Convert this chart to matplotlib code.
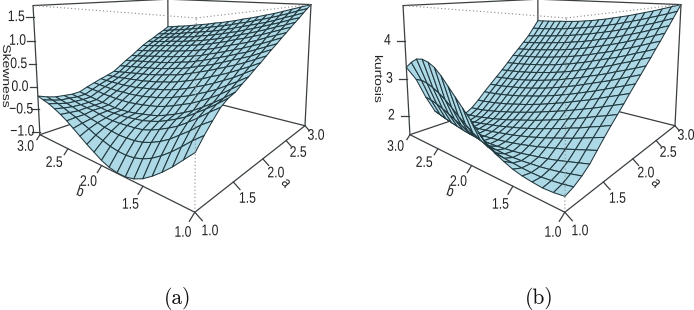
import numpy as np
import matplotlib
matplotlib.use("Agg")
import matplotlib.pyplot as plt
from matplotlib.collections import PolyCollection
from matplotlib.patheffects import AbstractPathEffect
from matplotlib.transforms import Affine2D

a_grid = [1.0, 1.1, 1.2, 1.3, 1.4, 1.5, 1.6, 1.7, 1.8, 1.9, 2.0, 2.1, 2.2, 2.3, 2.4, 2.5, 2.6, 2.7, 2.8, 2.9, 3.0]
b_grid = [1.0, 1.1, 1.2, 1.3, 1.4, 1.5, 1.6, 1.7, 1.8, 1.9, 2.0, 2.1, 2.2, 2.3, 2.4, 2.5, 2.6, 2.7, 2.8, 2.9, 3.0]

# each row: one value of a, columns follow b_grid
skewness = [
    [-.16, -.34, -.52, -.68, -.82, -.94, -1.02, -1.06, -1.06, -1.03, -.97, -.88, -.79, -.69, -.59, -.49, -.41, -.34, -.28, -.24, -.20],
    [.02, -.12, -.28, -.43, -.56, -.67, -.75, -.80, -.82, -.81, -.78, -.73, -.68, -.61, -.55, -.48, -.43, -.38, -.33, -.30, -.27],
    [.18, .06, -.09, -.22, -.35, -.45, -.53, -.59, -.62, -.63, -.63, -.61, -.59, -.55, -.52, -.48, -.45, -.41, -.38, -.35, -.32],
    [.33, .20, .06, -.07, -.19, -.28, -.36, -.43, -.48, -.50, -.51, -.52, -.52, -.51, -.48, -.45, -.44, -.42, -.39, -.36, -.34],
    [.42, .28, .15, .03, -.09, -.18, -.26, -.33, -.38, -.42, -.44, -.46, -.47, -.47, -.47, -.45, -.44, -.42, -.40, -.38, -.36],
    [.47, .33, .20, .08, -.03, -.12, -.20, -.27, -.33, -.37, -.40, -.43, -.45, -.46, -.46, -.44, -.43, -.41, -.39, -.37, -.35],
    [.56, .43, .30, .19, .09, .00, -.07, -.14, -.20, -.25, -.28, -.31, -.33, -.35, -.35, -.35, -.34, -.33, -.31, -.30, -.28],
    [.64, .52, .41, .30, .21, .13, .05, -.01, -.07, -.12, -.16, -.19, -.22, -.24, -.25, -.25, -.26, -.25, -.24, -.23, -.22],
    [.73, .62, .51, .42, .33, .25, .18, .11, .05, .00, -.04, -.07, -.10, -.12, -.15, -.16, -.17, -.17, -.17, -.17, -.16],
    [.81, .71, .62, .53, .45, .38, .30, .24, .18, .13, .08, .05, .01, -.01, -.04, -.05, -.07, -.08, -.10, -.11, -.11],
    [.90, .81, .72, .64, .57, .50, .43, .37, .31, .25, .20, .17, .13, .10, .07, .05, .03, .01, -.01, -.03, -.05],
    [.99, .90, .81, .74, .67, .60, .53, .47, .42, .36, .31, .28, .24, .21, .18, .16, .14, .12, .10, .08, .06],
    [1.07, .99, .91, .83, .77, .70, .64, .58, .52, .47, .42, .39, .35, .32, .29, .27, .25, .23, .21, .19, .17],
    [1.16, 1.08, 1.00, .93, .86, .80, .74, .68, .63, .57, .53, .49, .46, .43, .40, .38, .36, .33, .31, .29, .27],
    [1.24, 1.17, 1.10, 1.02, .96, .90, .85, .79, .73, .68, .64, .60, .57, .54, .51, .49, .47, .44, .42, .40, .38],
    [1.33, 1.26, 1.19, 1.12, 1.06, 1.00, .95, .89, .84, .79, .75, .71, .68, .65, .62, .60, .58, .55, .53, .51, .49],
    [1.41, 1.34, 1.28, 1.21, 1.15, 1.09, 1.04, .98, .93, .88, .84, .80, .77, .74, .71, .69, .67, .64, .62, .60, .58],
    [1.49, 1.43, 1.36, 1.30, 1.24, 1.18, 1.13, 1.07, 1.03, .98, .94, .90, .87, .83, .80, .78, .76, .73, .71, .68, .66],
    [1.58, 1.51, 1.45, 1.38, 1.32, 1.27, 1.22, 1.17, 1.12, 1.07, 1.03, .99, .96, .93, .90, .87, .84, .81, .79, .77, .75],
    [1.66, 1.60, 1.53, 1.47, 1.41, 1.36, 1.31, 1.26, 1.22, 1.17, 1.13, 1.09, 1.06, 1.02, .99, .96, .93, .90, .88, .85, .83],
    [1.74, 1.68, 1.62, 1.56, 1.50, 1.45, 1.40, 1.35, 1.31, 1.26, 1.22, 1.18, 1.15, 1.11, 1.08, 1.05, 1.02, .99, .97, .94, .92],
]

kurtosis = [
    [1.77, 1.74, 1.73, 1.75, 1.78, 1.83, 1.91, 2.00, 2.13, 2.32, 2.53, 2.73, 2.93, 3.13, 3.33, 3.49, 3.58, 3.62, 3.59, 3.47, 3.30],
    [1.83, 1.79, 1.76, 1.74, 1.74, 1.75, 1.77, 1.79, 1.83, 1.89, 1.98, 2.08, 2.21, 2.35, 2.50, 2.64, 2.76, 2.85, 2.92, 2.95, 2.93],
    [1.93, 1.88, 1.83, 1.79, 1.76, 1.74, 1.72, 1.71, 1.71, 1.72, 1.74, 1.78, 1.83, 1.90, 1.98, 2.06, 2.15, 2.23, 2.30, 2.35, 2.38],
    [2.06, 2.00, 1.94, 1.88, 1.83, 1.79, 1.75, 1.71, 1.68, 1.66, 1.64, 1.63, 1.63, 1.64, 1.66, 1.69, 1.73, 1.77, 1.82, 1.87, 1.92],
    [2.24, 2.17, 2.10, 2.03, 1.97, 1.91, 1.85, 1.80, 1.75, 1.71, 1.67, 1.64, 1.61, 1.59, 1.58, 1.57, 1.57, 1.58, 1.60, 1.63, 1.67],
    [2.42, 2.34, 2.26, 2.18, 2.11, 2.04, 1.97, 1.91, 1.85, 1.80, 1.75, 1.71, 1.67, 1.63, 1.60, 1.57, 1.55, 1.53, 1.52, 1.52, 1.52],
    [2.59, 2.50, 2.42, 2.33, 2.26, 2.18, 2.11, 2.04, 1.97, 1.91, 1.85, 1.80, 1.75, 1.70, 1.66, 1.62, 1.58, 1.55, 1.52, 1.50, 1.49],
    [2.75, 2.66, 2.58, 2.49, 2.41, 2.33, 2.25, 2.18, 2.11, 2.04, 1.98, 1.92, 1.86, 1.80, 1.75, 1.70, 1.66, 1.62, 1.58, 1.56, 1.54],
    [2.91, 2.82, 2.73, 2.64, 2.56, 2.48, 2.40, 2.33, 2.26, 2.19, 2.12, 2.06, 2.00, 1.94, 1.89, 1.84, 1.79, 1.75, 1.71, 1.68, 1.66],
    [3.08, 2.99, 2.90, 2.81, 2.72, 2.64, 2.56, 2.48, 2.41, 2.34, 2.27, 2.21, 2.15, 2.10, 2.05, 2.00, 1.96, 1.92, 1.89, 1.86, 1.84],
    [3.24, 3.15, 3.06, 2.97, 2.88, 2.80, 2.72, 2.64, 2.57, 2.50, 2.44, 2.38, 2.33, 2.28, 2.23, 2.19, 2.15, 2.12, 2.09, 2.07, 2.05],
    [3.40, 3.31, 3.22, 3.13, 3.05, 2.97, 2.89, 2.81, 2.74, 2.67, 2.61, 2.55, 2.50, 2.45, 2.41, 2.37, 2.34, 2.31, 2.28, 2.26, 2.24],
    [3.56, 3.47, 3.38, 3.30, 3.21, 3.13, 3.06, 2.98, 2.91, 2.85, 2.78, 2.73, 2.68, 2.63, 2.59, 2.55, 2.52, 2.49, 2.47, 2.45, 2.43],
    [3.72, 3.64, 3.55, 3.47, 3.38, 3.30, 3.23, 3.16, 3.09, 3.02, 2.96, 2.91, 2.86, 2.82, 2.78, 2.74, 2.71, 2.68, 2.66, 2.64, 2.62],
    [3.89, 3.80, 3.72, 3.63, 3.55, 3.48, 3.41, 3.34, 3.27, 3.21, 3.15, 3.10, 3.05, 3.01, 2.97, 2.94, 2.91, 2.88, 2.86, 2.84, 2.82],
    [4.05, 3.97, 3.88, 3.80, 3.73, 3.65, 3.58, 3.52, 3.45, 3.39, 3.34, 3.29, 3.25, 3.21, 3.17, 3.14, 3.11, 3.09, 3.07, 3.05, 3.03],
    [4.22, 4.14, 4.05, 3.98, 3.90, 3.83, 3.76, 3.70, 3.64, 3.58, 3.53, 3.48, 3.44, 3.40, 3.37, 3.34, 3.31, 3.28, 3.26, 3.24, 3.22],
    [4.39, 4.31, 4.23, 4.15, 4.08, 4.01, 3.94, 3.88, 3.83, 3.77, 3.72, 3.68, 3.64, 3.60, 3.57, 3.54, 3.51, 3.48, 3.46, 3.44, 3.42],
    [4.56, 4.48, 4.40, 4.33, 4.26, 4.19, 4.13, 4.07, 4.02, 3.97, 3.92, 3.88, 3.84, 3.80, 3.77, 3.74, 3.71, 3.69, 3.67, 3.64, 3.62],
    [4.73, 4.65, 4.58, 4.51, 4.44, 4.38, 4.32, 4.26, 4.21, 4.16, 4.12, 4.08, 4.04, 4.01, 3.98, 3.95, 3.93, 3.91, 3.89, 3.88, 3.87],
    [4.90, 4.83, 4.76, 4.69, 4.63, 4.57, 4.51, 4.46, 4.41, 4.36, 4.32, 4.28, 4.25, 4.22, 4.20, 4.18, 4.17, 4.15, 4.14, 4.13, 4.12],
]

a_ticks = [1.0, 1.5, 2.0, 2.5, 3.0]
b_ticks = [1.0, 1.5, 2.0, 2.5, 3.0]
skew_ticks = [-1.0, -0.5, 0.0, 0.5, 1.0, 1.5]
kurt_ticks = [2, 3, 4]
skew_lim = (-1.07, 1.74)
kurt_lim = (1.47, 4.90)

# view of the box on the page: (u, v, w) box corner -> pixel
VIEW = [((0, 0, 0), (195, 212)), ((1, 0, 0), (305, 126)), ((0, 1, 0), (40, 135)), ((1, 1, 0), (168, 91)),
        ((0, 0, 1), (196, 17)), ((1, 0, 1), (311, 5)), ((0, 1, 1), (33, 6)), ((1, 1, 1), (168, -1))]


def fit_view(view):
    rows = []
    for (u, v, w), (x, y) in view:
        rows.append([u, v, w, 1, 0, 0, 0, 0, -x * u, -x * v, -x * w, -x])
        rows.append([0, 0, 0, 0, u, v, w, 1, -y * u, -y * v, -y * w, -y])
    return np.linalg.svd(np.array(rows, float))[2][-1].reshape(3, 4)


class Squeeze(AbstractPathEffect):
    """Draw text narrower (the reference is squeezed sideways); the text stays real text."""

    def __init__(self, sx=1.0, sy=1.0):
        super().__init__()
        self.sx, self.sy = sx, sy

    def draw_path(self, renderer, gc, tpath, affine, rgbFace=None):
        e = tpath.get_extents()
        cx, cy = (e.x0 + e.x1) / 2, (e.y0 + e.y1) / 2
        t = Affine2D().translate(-cx, -cy).scale(self.sx, self.sy).translate(cx, cy)
        renderer.draw_path(gc, tpath, t + affine, rgbFace)


P = fit_view(VIEW)
LINE = "#3a3f42"
FILL = "#add8e6"
MESH = "#20383f"
INK = "#222222"
NARROW = [Squeeze(sx=0.8)]

plt.rcParams["font.family"] = ["Liberation Sans", "DejaVu Sans"]
fig = plt.figure(figsize=(6.94, 3.10), dpi=100)


def panel(rect, xmax, z, zlim, zticks, zfmt, zlabel, zlabel_xy, caption, caption_x):
    ax = fig.add_axes(rect)
    ax.set_xlim(0, xmax)
    ax.set_ylim(310, 0)
    ax.axis("off")

    def proj(a, b, c):
        u = (np.asarray(a, float) - 1) / 2
        v = (np.asarray(b, float) - 1) / 2
        w = (np.asarray(c, float) - zlim[0]) / (zlim[1] - zlim[0])
        h = np.stack([u, v, w, np.ones_like(u + v + w)], -1) @ P.T
        return h[..., 0] / h[..., 2], h[..., 1] / h[..., 2]

    def seg(p, q, **kw):
        x0, y0 = proj(*p)
        x1, y1 = proj(*q)
        ax.plot([x0, x1], [y0, y1], solid_capstyle="round", **kw)

    lo, hi = zlim
    solid = dict(color=LINE, lw=0.9)
    for p, q in [((3, 1, lo), (3, 3, lo)), ((1, 3, lo), (3, 3, lo)), ((3, 3, lo), (3, 3, hi)),
                 ((1, 3, hi), (3, 3, hi)), ((3, 1, hi), (3, 3, hi))]:
        seg(p, q, zorder=1, **solid)

    A, B = np.meshgrid(a_grid, b_grid, indexing="ij")
    X, Y = proj(A, B, np.array(z))
    polys = []
    n, m = X.shape
    for i in range(n - 2, -1, -1):
        for j in range(m - 2, -1, -1):
            polys.append([(X[i, j], Y[i, j]), (X[i + 1, j], Y[i + 1, j]),
                          (X[i + 1, j + 1], Y[i + 1, j + 1]), (X[i, j + 1], Y[i, j + 1])])
    ax.add_collection(PolyCollection(polys, facecolors=FILL, edgecolors=MESH, linewidths=0.75, zorder=2))

    for p, q in [((1, 1, lo), (3, 1, lo)), ((1, 1, lo), (1, 3, lo)), ((3, 1, lo), (3, 1, hi)), ((1, 3, lo), (1, 3, hi))]:
        seg(p, q, zorder=3, **solid)
    dotted = dict(color="#8a8a8a", lw=0.8, ls=(0, (1, 2.2)), zorder=3)
    for p, q in [((1, 1, lo), (1, 1, hi)), ((1, 1, hi), (3, 1, hi)), ((1, 1, hi), (1, 3, hi))]:
        seg(p, q, **dotted)

    label = dict(fontsize=11, ha="center", va="center", color=INK, path_effects=NARROW)
    for t in a_ticks:
        x, y = proj(t, 1, lo)
        s = 1 - 0.45 * (t - 1) / 2
        ax.plot([x, x + 7.5 * s], [y, y + 8.5 * s], zorder=3, **solid)
        ax.text(x + 15 - 2 * (t - 1), y + 19 - 4.5 * (t - 1), f"{t:.1f}", **label)
    for t in b_ticks:
        x, y = proj(1, t, lo)
        s = 1 - 0.45 * (t - 1) / 2
        ax.plot([x, x - 5.5 * s], [y, y + 9 * s], zorder=3, **solid)
        ax.text(x - 12 - 1.2 * (t - 1), y + 20.5 - 4.2 * (t - 1), f"{t:.1f}", **label)
    for t in zticks:
        x, y = proj(1, 3, t)
        ax.plot([x, x - 7.5], [y, y], zorder=3, **solid)
        ax.text(x - 17.5, y, zfmt(t), **label)

    ax.text(286, 183, "a", fontsize=11, rotation=-50, ha="center", va="center", color=INK, path_effects=NARROW)
    ax.text(80, 192, "b", fontsize=11, rotation=-18, ha="center", va="center", color=INK, path_effects=NARROW)
    ax.text(zlabel_xy[0], zlabel_xy[1], zlabel, fontsize=10, rotation=270, ha="center", va="center", color=INK,
            path_effects=[Squeeze(sy=0.8)])
    ax.text(caption_x, 298, caption, family=["cmr10", "DejaVu Serif"], fontsize=15.5, ha="center", va="center",
            color="#111111")


fmt_one = lambda t: ("\u2212" if t < 0 else "") + f"{abs(t):.1f}"
split = 370 / 694
panel([0, 0, split, 1], 370, skewness, skew_lim, skew_ticks, fmt_one, "Skewness", (6, 76), "(a)", 178)
panel([split, 0, 1 - split, 1], 324, kurtosis, kurt_lim, kurt_ticks, str, "kurtosis", (8, 79), "(b)", 169)

fig.savefig("out.png", dpi=100, facecolor="white")
